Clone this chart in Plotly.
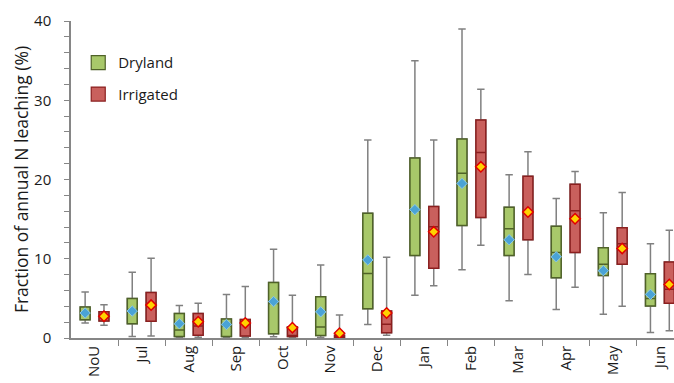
import plotly.graph_objects as go

months = ["NoU", "Jul", "Aug", "Sep", "Oct", "Nov", "Dec", "Jan", "Feb", "Mar", "Apr", "May", "Jun"]

# Dryland statistics (% of annual N leaching)
dry_lower = [1.9, 0.2, 0.1, 0.05, 0.15, 0.05, 1.7, 5.4, 8.6, 4.7, 3.6, 3.0, 0.7]
dry_q1 = [2.3, 1.8, 0.2, 0.2, 0.55, 0.3, 3.7, 10.4, 14.2, 10.4, 7.6, 7.9, 4.05]
dry_median = [3.0, 3.6, 1.0, 1.5, 4.35, 1.4, 8.15, 16.0, 20.8, 13.8, 10.8, 9.3, 5.0]
dry_q3 = [3.9, 5.0, 3.1, 2.4, 7.0, 5.2, 15.75, 22.7, 25.1, 16.5, 14.1, 11.4, 8.1]
dry_upper = [5.8, 8.3, 4.1, 5.5, 11.2, 9.2, 25.0, 35.0, 39.0, 20.6, 17.6, 15.8, 11.9]
dry_mean = [3.15, 3.4, 1.8, 1.7, 4.6, 3.3, 9.85, 16.2, 19.5, 12.4, 10.25, 8.5, 5.5]

# Irrigated statistics
irr_lower = [1.6, 0.25, 0.1, 0.05, 0.05, 0.02, 0.35, 6.6, 11.7, 8.0, 6.4, 4.0, 0.9]
irr_q1 = [2.15, 2.1, 0.35, 0.25, 0.2, 0.05, 0.65, 8.8, 15.2, 12.4, 10.8, 9.3, 4.4]
irr_median = [2.7, 4.0, 1.5, 1.75, 0.2, 0.1, 1.75, 14.05, 23.4, 15.95, 16.05, 11.9, 6.15]
irr_q3 = [3.3, 5.75, 3.1, 2.35, 1.4, 0.35, 3.4, 16.6, 27.5, 20.4, 19.4, 13.9, 9.6]
irr_upper = [4.2, 10.05, 4.4, 6.5, 5.4, 2.9, 10.2, 25.0, 31.4, 23.5, 21.0, 18.35, 13.6]
irr_mean = [2.75, 4.15, 2.05, 1.9, 1.3, 0.6, 3.15, 13.4, 21.6, 15.9, 15.05, 11.3, 6.75]

OFFSET = 0.2
BOXW = 0.21
idx = list(range(len(months)))
x_dry = [i - OFFSET for i in idx]
x_irr = [i + OFFSET for i in idx]

WHISK = "#808080"
GREEN_FILL = "#a8c86a"
GREEN_LINE = "#4f6228"
RED_FILL = "#c9605d"
RED_LINE = "#8b1f1f"

fig = go.Figure()

def add_group(xs, lo, q1, med, q3, hi, fill, line):
    # whiskers (grey)
    fig.add_trace(go.Box(
        x=xs, q1=q1, median=med, q3=q3, lowerfence=lo, upperfence=hi,
        width=BOXW, whiskerwidth=0.75, fillcolor="rgba(0,0,0,0)",
        line=dict(color=WHISK, width=1.5), showlegend=False, hoverinfo="skip",
    ))
    # coloured box
    fig.add_trace(go.Box(
        x=xs, q1=q1, median=med, q3=q3, lowerfence=q1, upperfence=q3,
        width=BOXW, whiskerwidth=0, fillcolor=fill,
        line=dict(color=line, width=1.5), showlegend=False,
    ))

add_group(x_dry, dry_lower, dry_q1, dry_median, dry_q3, dry_upper, GREEN_FILL, GREEN_LINE)
add_group(x_irr, irr_lower, irr_q1, irr_median, irr_q3, irr_upper, RED_FILL, RED_LINE)

fig.add_trace(go.Scatter(
    x=x_dry, y=dry_mean, mode="markers", showlegend=False,
    marker=dict(symbol="diamond", size=8, color="#4aa3d6", line=dict(color="#8cc9e8", width=1)),
))
fig.add_trace(go.Scatter(
    x=x_irr, y=irr_mean, mode="markers", showlegend=False,
    marker=dict(symbol="diamond", size=8, color="#ffd200", line=dict(color="#e00000", width=1.5)),
))

# legend entries
fig.add_trace(go.Scatter(
    x=[None], y=[None], mode="markers", name="Dryland", legendgroup="a",
    marker=dict(symbol="square", size=14, color=GREEN_FILL, line=dict(color=GREEN_LINE, width=1.2)),
))
fig.add_trace(go.Scatter(
    x=[None], y=[None], mode="markers", name="Irrigated", legendgroup="b",
    marker=dict(symbol="square", size=14, color=RED_FILL, line=dict(color=RED_LINE, width=1.2)),
))

font = "Open Sans"
fig.update_layout(
    width=674, height=383,
    margin=dict(l=71, r=0, t=21, b=45, autoexpand=False),
    paper_bgcolor="white", plot_bgcolor="white",
    font=dict(family=font, size=15, color="#1a1a1a"),
    showlegend=True,
    legend=dict(x=0.012, y=0.92, xanchor="left", yanchor="top",
                bgcolor="rgba(0,0,0,0)", tracegroupgap=9,
                font=dict(size=15), itemsizing="trace"),
    xaxis=dict(
        range=[-0.5, 12.3], tickmode="array", tickvals=idx, ticktext=months,
        tickangle=-90, ticks="", showgrid=False, zeroline=False, automargin=False,
        showline=True, linecolor="#868686", linewidth=1.5,
        minor=dict(tickmode="array", tickvals=[i + 0.5 for i in idx],
                   ticks="outside", ticklen=6, tickcolor="#868686", tickwidth=1, showgrid=False),
        tickfont=dict(size=15),
    ),
    yaxis=dict(
        range=[0, 40], dtick=10, ticks="outside", ticklen=5, tickcolor="#868686",
        showgrid=False, zeroline=False, showline=True, linecolor="#868686", linewidth=1.5,
        automargin=False, ticklabelstandoff=10,
        minor=dict(dtick=2, ticks="outside", ticklen=5, tickcolor="#868686", showgrid=False),
        title=dict(text="Fraction of annual N leaching (%)", font=dict(size=17.5), standoff=1),
        tickfont=dict(size=15),
    ),
)

fig.write_html(
    "out.html",
    config={"displayModeBar": False},
    post_script="document.body.style.margin='0';document.body.style.overflow='hidden';",
)
